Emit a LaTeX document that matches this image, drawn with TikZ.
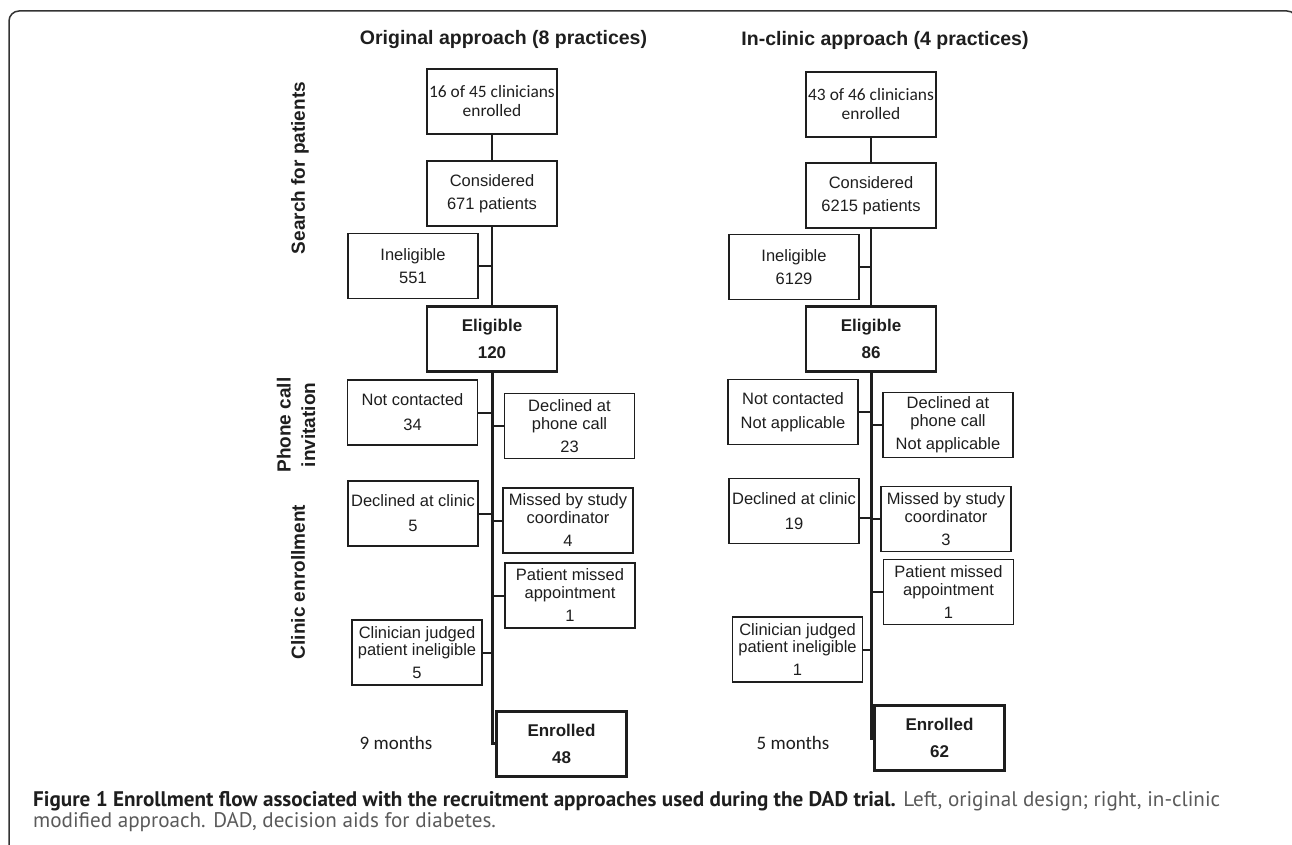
\documentclass[tikz,border=0pt]{standalone}
\usepackage{fontspec}
\usepackage{graphicx}
\setmainfont{Liberation Sans}
\newfontfamily\calfont{Carlito}
\newfontfamily\capfont{PT Sans}
\definecolor{ink}{HTML}{1E1E1E}
\definecolor{capgray}{HTML}{5A5A5A}
\newsavebox\capone
\begin{document}
\sbox\capone{\capfont\fontsize{17}{20}\selectfont\textbf{Figure 1 Enrollment flow associated with the recruitment approaches used during the DAD trial.} Left, original design; right, in-clinic}
\pgfmathsetmacro\capscale{1187/\wd\capone}
\begin{tikzpicture}[x=1pt,y=-1pt,
  box/.style={draw=ink, line width=1.8pt, minimum width=130pt, minimum height=65pt,
    inner sep=0pt, align=center, text=ink, font=\fontsize{16.5}{23}\selectfont},
  topbox/.style={box, font=\calfont\fontsize{17.4}{19}\selectfont},
  eligbox/.style={box, line width=2.4pt, font=\bfseries\fontsize{17}{27}\selectfont},
  enrbox/.style={box, line width=3pt, font=\bfseries\fontsize{17}{27}\selectfont},
  conn/.style={draw=ink, line width=2pt},
  trunk/.style={draw=ink, line width=3pt},
  phase/.style={rotate=90, align=center, text=ink, font=\bfseries\fontsize{19}{24.5}\selectfont},
  coltitle/.style={text=ink, font=\bfseries\fontsize{19.5}{24}\selectfont},
  months/.style={text=ink, font=\calfont\fontsize{19}{22}\selectfont}
]
\useasboundingbox (0,0) rectangle (1292,845);
% frame
\draw[draw=black!80, line width=1.5pt, rounded corners=10pt] (9,850) -- (9,11) -- (1297,11) -- (1297,850);

% phase labels
\node[phase] (lsearch) at (300,168) {Search for patients};
\node[phase] (lphone) at (296,425) {Phone call\\invitation};
\node[phase] (lclinic) at (298,582) {Clinic enrollment};

% column titles
\node[coltitle] (tL) at (503.5,40) {Original approach (8 practices)};
\node[coltitle] (tR) at (885,40) {In-clinic approach (4 practices)};

% ---------------- left column
\node[topbox] (b1L) at (492,101.5) {16 of 45 clinicians\\enrolled};
\node[box] (consL) at (492,193.5) {Considered\\671 patients};
\node[box] (inelL) at (413,266) {Ineligible\\551};
\node[eligbox] (elL) at (492,339) {Eligible\\120};
\node[box] (ncL) at (412.5,412.5) {Not contacted\\[2pt]34};
\node[box] (dpL) at (569.5,426) {Declined at\\[-5pt]phone call\\23};
\node[box] (dcL) at (413,513.5) {Declined at clinic\\[2pt]5};
\node[box] (msL) at (568,520.5) {Missed by study\\[-5pt]coordinator\\4};
\node[box] (pmL) at (570,595.5) {Patient missed\\[-5pt]appointment\\1};
\node[box] (cjL) at (417,652.5) {Clinician judged\\[-6pt]patient ineligible\\5};
\node[enrbox] (enL) at (561.5,743.5) {Enrolled\\48};
\node[months] (monL) at (396,743) {9 months};

\draw[conn] (b1L.south) -- (consL.north);
\draw[conn] (consL.south) -- (elL.north);
\draw[conn] (inelL.east) -- (inelL.east -| consL.south);
\draw[trunk] (elL.south) -- (elL.south |- enL.west) -- (enL.west);
\draw[conn] (ncL.east) -- (ncL.east -| elL.south);
\draw[conn] (dpL.west) -- (dpL.west -| elL.south);
\draw[conn] (dcL.east) -- (dcL.east -| elL.south);
\draw[conn] (msL.west) -- (msL.west -| elL.south);
\draw[conn] (pmL.west) -- (pmL.west -| elL.south);
\draw[conn] (cjL.east) -- (cjL.east -| elL.south);

% ---------------- right column
\node[topbox] (b1R) at (871,104.5) {43 of 46 clinicians\\enrolled};
\node[box] (consR) at (871,195.5) {Considered\\6215 patients};
\node[box] (inelR) at (794,267) {Ineligible\\6129};
\node[eligbox] (elR) at (871,339) {Eligible\\86};
\node[box] (ncR) at (793,412) {Not contacted\\[1pt]Not applicable};
\node[box] (dpR) at (948,425) {Declined at\\[-5pt]phone call\\Not applicable};
\node[box] (dcR) at (794,511) {Declined at clinic\\[2pt]19};
\node[box] (msR) at (946,519) {Missed by study\\[-5pt]coordinator\\3};
\node[box] (pmR) at (948.5,592) {Patient missed\\[-5pt]appointment\\1};
\node[box] (cjR) at (797.5,649.5) {Clinician judged\\[-6pt]patient ineligible\\1};
\node[enrbox] (enR) at (939.5,738) {Enrolled\\62};
\node[months] (monR) at (793,743) {5 months};

\draw[conn] (b1R.south) -- (consR.north);
\draw[conn] (consR.south) -- (elR.north);
\draw[conn] (inelR.east) -- (inelR.east -| consR.south);
\draw[trunk] (elR.south) -- (elR.south |- enR.west) -- (enR.west);
\draw[conn] (ncR.east) -- (ncR.east -| elR.south);
\draw[conn] (dpR.west) -- (dpR.west -| elR.south);
\draw[conn] ([yshift=-7pt]dcR.east) -- ([yshift=-7pt]dcR.east -| elR.south);
\draw[conn] (msR.west) -- (msR.west -| elR.south);
\draw[conn] (pmR.west) -- (pmR.west -| elR.south);
\draw[conn] (cjR.east) -- (cjR.east -| elR.south);

% caption
\node[anchor=west, inner sep=0pt] (cap1) at (33,801) {\scalebox{\capscale}{\capfont\fontsize{17}{20}\selectfont\textbf{\color{ink}Figure 1 Enrollment flow associated with the recruitment approaches used during the DAD trial.} {\color{capgray}Left, original design; right, in-clinic}}};
\node[anchor=west, inner sep=0pt] (cap2) at (33,822) {\scalebox{\capscale}{\capfont\fontsize{17}{20}\selectfont\color{capgray}modified approach. DAD, decision aids for diabetes.}};
\end{tikzpicture}
\end{document}
